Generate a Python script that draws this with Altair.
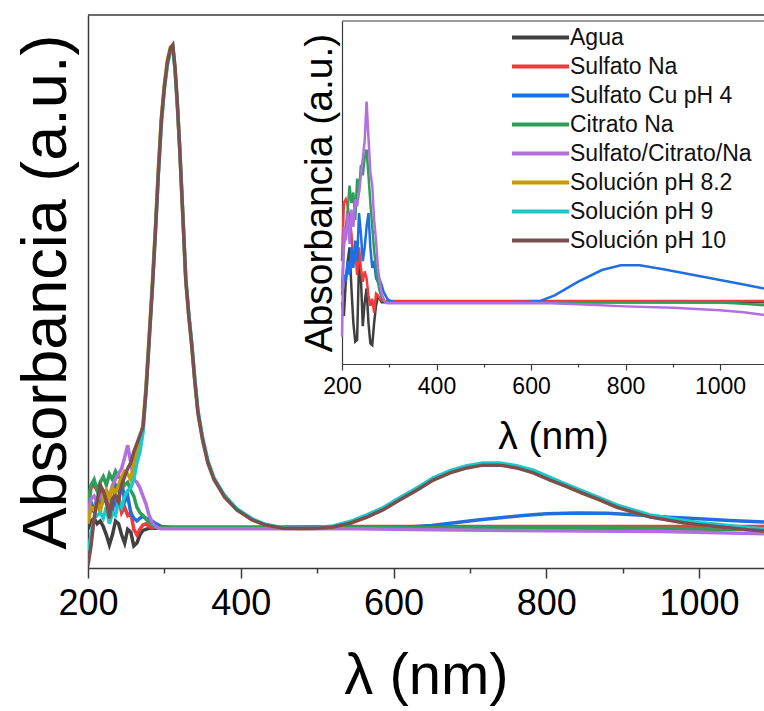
import altair as alt
import pandas as pd

# ---------------- categories / colours ----------------
SERIES = ["Agua", "Sulfato Na", "Sulfato Cu pH 4", "Citrato Na",
          "Sulfato/Citrato/Na", "Solución pH 8.2", "Solución pH 9", "Solución pH 10"]
COLORS = ["#404040", "#ef3b3b", "#1f6fe0", "#2f9e5a",
          "#b26fe0", "#c99a00", "#1cc8c8", "#7b4f4f"]

# ---------------- axes ----------------
MAIN_X_DOMAIN = [200, 1085]
MAIN_Y_DOMAIN = [0, 1]
MAIN_MAJOR = [200, 400, 600, 800, 1000]
MAIN_MINOR = [300, 500, 700, 900]
INSET_X_DOMAIN = [200, 1093]
INSET_Y_DOMAIN = [0, 1]
INSET_MAJOR = [200, 400, 600, 800, 1000]
INSET_MINOR = [300, 500, 700, 900]

# ---------------- main plot data ----------------
NOISE_WL = [200, 204, 208, 212, 216, 220, 224, 228, 232, 236, 240, 244, 248,
            252, 256, 260, 264, 268, 272, 276, 280, 284, 288, 292, 296]

LOW_TAIL_WL = [350, 450, 550, 650, 750, 850, 950, 1085]

AGUA_NOISE = [0.07, 0.085, 0.09, 0.08, 0.085, 0.075, 0.06, 0.042, 0.06, 0.085, 0.08, 0.06, 0.045,
              0.07, 0.065, 0.04, 0.045, 0.06, 0.068, 0.07, 0.072, 0.072, 0.072, 0.072, 0.072]
AGUA_TAIL = [0.072, 0.072, 0.072, 0.072, 0.072, 0.072, 0.071, 0.070]

SNA_NOISE = [0.10, 0.145, 0.15, 0.14, 0.145, 0.12, 0.13, 0.10, 0.125, 0.115, 0.13, 0.10, 0.11,
             0.095, 0.10, 0.07, 0.06, 0.07, 0.078, 0.08, 0.075, 0.073, 0.074, 0.074, 0.074]
SNA_TAIL = [0.074, 0.074, 0.075, 0.075, 0.075, 0.075, 0.075, 0.075]

CIT_NOISE = [0.12, 0.15, 0.16, 0.14, 0.155, 0.165, 0.15, 0.17, 0.16, 0.175, 0.165, 0.16, 0.15,
             0.155, 0.14, 0.13, 0.11, 0.10, 0.095, 0.088, 0.083, 0.078, 0.074, 0.073, 0.073]
CIT_TAIL = [0.073, 0.073, 0.073, 0.073, 0.073, 0.073, 0.072, 0.070]

SCN_NOISE = [0.10, 0.125, 0.13, 0.12, 0.13, 0.135, 0.14, 0.13, 0.15, 0.16, 0.17, 0.18, 0.20,
             0.222, 0.19, 0.16, 0.155, 0.145, 0.13, 0.115, 0.095, 0.083, 0.076, 0.072, 0.071]
SCN_TAIL = [0.071, 0.071, 0.071, 0.069, 0.068, 0.067, 0.066, 0.062]

CU_NOISE = [0.09, 0.12, 0.10, 0.13, 0.11, 0.14, 0.12, 0.13, 0.10, 0.15, 0.14, 0.16, 0.12,
            0.13, 0.10, 0.09, 0.085, 0.09, 0.093, 0.09, 0.088, 0.085, 0.081, 0.078, 0.075]
CU_TAIL_WL = [310, 400, 500, 600, 620, 650, 680, 710, 740, 770, 800, 840, 880, 920, 960, 1000, 1040, 1085]
CU_TAIL = [0.073, 0.073, 0.073, 0.073, 0.074, 0.077, 0.082, 0.087, 0.091, 0.095, 0.098, 0.0995,
           0.099, 0.096, 0.092, 0.089, 0.086, 0.083]

PEAK_TAIL_WL = [300, 304, 308, 311, 314, 317, 320, 324, 328, 332,
                336, 340, 344, 350, 357, 365, 379, 395, 415, 432,
                455, 478, 500, 521, 543, 565, 586, 608, 631, 652,
                674, 696, 717, 739, 761, 783, 805, 827, 848, 870,
                892, 914, 936, 958, 980, 1001, 1023, 1045, 1065, 1085]

PH82_NOISE = [0.08, 0.11, 0.105, 0.12, 0.10, 0.13, 0.14, 0.125, 0.145, 0.135, 0.15, 0.165, 0.175,
              0.17, 0.16, 0.19, 0.21, 0.23, 0.26, 0.33, 0.42, 0.51, 0.61, 0.72, 0.815]
PH82_TAIL = [0.875, 0.92, 0.942, 0.944, 0.90, 0.835, 0.758, 0.64, 0.52, 0.455,
             0.40, 0.335, 0.28, 0.232, 0.19, 0.16, 0.128, 0.105, 0.087, 0.078,
             0.072, 0.071, 0.072, 0.074, 0.081, 0.092, 0.106, 0.124, 0.142, 0.16,
             0.173, 0.182, 0.187, 0.187, 0.182, 0.173, 0.16, 0.147, 0.135, 0.123,
             0.11, 0.101, 0.093, 0.087, 0.082, 0.078, 0.075, 0.072, 0.069, 0.067]

PH9_NOISE = [0.03, 0.06, 0.09, 0.095, 0.10, 0.09, 0.11, 0.08, 0.10, 0.095, 0.12, 0.11, 0.13,
             0.14, 0.145, 0.16, 0.19, 0.21, 0.245, 0.32, 0.41, 0.50, 0.60, 0.71, 0.80]
PH9_TAIL = [0.865, 0.91, 0.935, 0.94, 0.90, 0.838, 0.762, 0.645, 0.525, 0.46,
            0.405, 0.34, 0.285, 0.236, 0.194, 0.163, 0.131, 0.107, 0.089, 0.079,
            0.073, 0.073, 0.073, 0.076, 0.084, 0.096, 0.109, 0.127, 0.145, 0.163,
            0.176, 0.185, 0.19, 0.19, 0.185, 0.177, 0.164, 0.151, 0.139, 0.127,
            0.114, 0.105, 0.096, 0.091, 0.086, 0.082, 0.079, 0.076, 0.073, 0.071]

PH10_NOISE = [0.005, 0.04, 0.09, 0.12, 0.15, 0.14, 0.12, 0.09, 0.125, 0.13, 0.12, 0.15, 0.165,
              0.18, 0.19, 0.21, 0.225, 0.24, 0.255, 0.32, 0.41, 0.50, 0.60, 0.71, 0.81]
PH10_TAIL = [0.87, 0.915, 0.94, 0.946, 0.905, 0.84, 0.761, 0.642, 0.521, 0.455,
             0.40, 0.335, 0.28, 0.232, 0.19, 0.16, 0.128, 0.105, 0.087, 0.078,
             0.072, 0.072, 0.072, 0.074, 0.081, 0.092, 0.105, 0.123, 0.141, 0.159,
             0.172, 0.181, 0.186, 0.186, 0.181, 0.172, 0.159, 0.147, 0.135, 0.123,
             0.110, 0.101, 0.092, 0.087, 0.082, 0.078, 0.075, 0.072, 0.069, 0.067]

# ---------------- inset data ----------------
IN_AGUA_NOISE = [0.18, 0.14, 0.24, 0.30, 0.34, 0.22, 0.12, 0.065, 0.07, 0.30, 0.25, 0.11, 0.18,
                 0.22, 0.12, 0.06, 0.055, 0.12, 0.17, 0.195, 0.19, 0.18, 0.18, 0.18, 0.18]
IN_AGUA_TAIL_WL = [400, 700, 1000, 1093]
IN_AGUA_TAIL = [0.18, 0.18, 0.18, 0.18]

IN_SNA_NOISE = [0.30, 0.47, 0.48, 0.46, 0.42, 0.38, 0.30, 0.33, 0.26, 0.34, 0.28, 0.24, 0.27,
                0.25, 0.20, 0.17, 0.19, 0.15, 0.205, 0.20, 0.19, 0.185, 0.184, 0.184, 0.184]
IN_SNA_TAIL_WL = [400, 700, 1000, 1093]
IN_SNA_TAIL = [0.184, 0.184, 0.184, 0.184]

IN_CIT_NOISE = [0.22, 0.34, 0.40, 0.45, 0.52, 0.47, 0.50, 0.42, 0.54, 0.50, 0.58, 0.55, 0.60,
                0.625, 0.55, 0.47, 0.40, 0.33, 0.28, 0.24, 0.21, 0.195, 0.185, 0.18, 0.18]
IN_CIT_TAIL_WL = [400, 700, 1000, 1050, 1093]
IN_CIT_TAIL = [0.18, 0.18, 0.179, 0.176, 0.171]

IN_CU_NOISE = [0.20, 0.26, 0.24, 0.30, 0.26, 0.34, 0.28, 0.36, 0.30, 0.44, 0.38, 0.30, 0.34,
               0.40, 0.44, 0.34, 0.28, 0.30, 0.25, 0.24, 0.245, 0.23, 0.21, 0.20, 0.19]
IN_CU_TAIL_WL = [300, 310, 400, 500, 580, 620, 650, 700, 750, 790, 830, 880, 950, 1000, 1050, 1093]
IN_CU_TAIL = [0.185, 0.181, 0.18, 0.18, 0.18, 0.184, 0.20, 0.24, 0.274, 0.288, 0.288, 0.276,
              0.258, 0.245, 0.232, 0.22]

IN_SCN_NOISE = [0.08, 0.40, 0.36, 0.44, 0.35, 0.45, 0.40, 0.48, 0.46, 0.50, 0.55, 0.60, 0.65,
                0.765, 0.66, 0.56, 0.52, 0.42, 0.36, 0.28, 0.24, 0.205, 0.19, 0.18, 0.177]
IN_SCN_TAIL_WL = [400, 640, 700, 800, 900, 1000, 1050, 1093]
IN_SCN_TAIL = [0.177, 0.177, 0.174, 0.168, 0.164, 0.157, 0.151, 0.143]

# ---------------- build tables ----------------
def rows(name, wls, vals):
    return [{"wl": w, "a": v, "s": name} for w, v in zip(wls, vals)]

main_rows = []
main_rows += rows(SERIES[0], NOISE_WL + LOW_TAIL_WL, AGUA_NOISE + AGUA_TAIL)
main_rows += rows(SERIES[1], NOISE_WL + LOW_TAIL_WL, SNA_NOISE + SNA_TAIL)
main_rows += rows(SERIES[2], NOISE_WL + CU_TAIL_WL, CU_NOISE + CU_TAIL)
main_rows += rows(SERIES[3], NOISE_WL + LOW_TAIL_WL, CIT_NOISE + CIT_TAIL)
main_rows += rows(SERIES[4], NOISE_WL + LOW_TAIL_WL, SCN_NOISE + SCN_TAIL)
main_rows += rows(SERIES[5], NOISE_WL + PEAK_TAIL_WL, PH82_NOISE + PH82_TAIL)
main_rows += rows(SERIES[6], NOISE_WL + PEAK_TAIL_WL, PH9_NOISE + PH9_TAIL)
main_rows += rows(SERIES[7], NOISE_WL + PEAK_TAIL_WL, PH10_NOISE + PH10_TAIL)
main_df = pd.DataFrame(main_rows)

inset_rows = []
inset_rows += rows(SERIES[0], NOISE_WL + IN_AGUA_TAIL_WL, IN_AGUA_NOISE + IN_AGUA_TAIL)
inset_rows += rows(SERIES[1], NOISE_WL + IN_SNA_TAIL_WL, IN_SNA_NOISE + IN_SNA_TAIL)
inset_rows += rows(SERIES[2], NOISE_WL + IN_CU_TAIL_WL, IN_CU_NOISE + IN_CU_TAIL)
inset_rows += rows(SERIES[3], NOISE_WL + IN_CIT_TAIL_WL, IN_CIT_NOISE + IN_CIT_TAIL)
inset_rows += rows(SERIES[4], NOISE_WL + IN_SCN_TAIL_WL, IN_SCN_NOISE + IN_SCN_TAIL)
inset_df = pd.DataFrame(inset_rows)

main_frame_df = pd.DataFrame([{"x0": MAIN_X_DOMAIN[0], "x1": MAIN_X_DOMAIN[1], "y": MAIN_Y_DOMAIN[1]}])
inset_frame_df = pd.DataFrame([{"x0": INSET_X_DOMAIN[0], "x1": INSET_X_DOMAIN[1], "y": INSET_Y_DOMAIN[1]}])

FONT = "Liberation Sans"
AX = "#3a3a3a"

legend = alt.Legend(
    title=None, orient="none", legendX=422, legendY=9,
    symbolType="M-1,0H3.96", symbolSize=529, symbolStrokeWidth=4,
    labelFontSize=23, labelFont=FONT, labelColor="#111111", labelOffset=33,
    labelLimit=400, rowPadding=3, padding=0, symbolOffset=0,
)
color = alt.Color("s:N", scale=alt.Scale(domain=SERIES, range=COLORS), legend=legend, sort=SERIES)

main_lines = alt.Chart(main_df).mark_line(strokeWidth=3.5, clip=True).encode(
    x=alt.X("wl:Q", scale=alt.Scale(domain=MAIN_X_DOMAIN, nice=False, zero=False),
            axis=alt.Axis(values=MAIN_MAJOR, format="d", tickSize=10, tickWidth=1.5, labelFontSize=36,
                          labelPadding=8, labelFlush=False, title="λ (nm)", titleFontSize=58,
                          titlePadding=26, domainWidth=1.5, orient="bottom")),
    y=alt.Y("a:Q", scale=alt.Scale(domain=MAIN_Y_DOMAIN, nice=False, zero=False),
            axis=alt.Axis(ticks=False, labels=False, title="Absorbancia (a.u.)",
                          titleFontSize=63, titlePadding=10, domainWidth=1.5, orient="left")),
    color=color,
)

main_frame = alt.Chart(main_frame_df).mark_rule(color=AX, strokeWidth=1.5).encode(
    x=alt.X("x0:Q", scale=alt.Scale(domain=MAIN_X_DOMAIN, nice=False, zero=False),
            axis=alt.Axis(values=MAIN_MINOR, labels=False, domain=False, tickSize=5,
                          tickWidth=1.5, title=None, orient="bottom")),
    x2="x1:Q",
    y=alt.Y("y:Q", scale=alt.Scale(domain=MAIN_Y_DOMAIN, nice=False, zero=False), axis=None),
)

inset_lines = alt.Chart(inset_df).mark_line(strokeWidth=2.5, clip=True).encode(
    x=alt.X("wl:Q", scale=alt.Scale(domain=INSET_X_DOMAIN, range=[254, 676], nice=False, zero=False),
            axis=alt.Axis(values=INSET_MAJOR, format="d", tickSize=6, tickWidth=1.2, labelFontSize=23,
                          labelPadding=5, labelFlush=False, title="λ (nm)", titleFontSize=39,
                          titlePadding=19, domainWidth=1.2, orient="bottom", offset=-204)),
    y=alt.Y("a:Q", scale=alt.Scale(domain=INSET_Y_DOMAIN, range=[349, 6], nice=False, zero=False),
            axis=alt.Axis(ticks=False, labels=False, title="Absorbancia (a.u.)",
                          titleFontSize=39, titlePadding=3, domainWidth=1.2,
                          orient="left", offset=-254)),
    color=color,
)

inset_frame = alt.Chart(inset_frame_df).mark_rule(color=AX, strokeWidth=1.2).encode(
    x=alt.X("x0:Q", scale=alt.Scale(domain=INSET_X_DOMAIN, range=[254, 676], nice=False, zero=False),
            axis=alt.Axis(values=INSET_MINOR, labels=False, domain=False, tickSize=3,
                          tickWidth=1.2, title=None, orient="bottom", offset=-204)),
    x2="x1:Q",
    y=alt.Y("y:Q", scale=alt.Scale(domain=INSET_Y_DOMAIN, range=[349, 6], nice=False, zero=False),
            axis=None),
)

chart = alt.layer(main_lines, main_frame, inset_lines, inset_frame).resolve_scale(
    x="independent", y="independent"
).properties(
    width=676, height=553,
    autosize=alt.AutoSizeParams(type="none"),
    padding={"left": 88, "top": 15, "right": 0, "bottom": 143},
).configure_view(stroke=None).configure_axis(
    grid=False, labelFont=FONT, titleFont=FONT, labelColor="#000000", titleColor="#000000",
    titleFontWeight="normal", domainColor=AX, tickColor=AX,
)

chart.save("out.html", embed_options={"renderer": "svg", "actions": False})
